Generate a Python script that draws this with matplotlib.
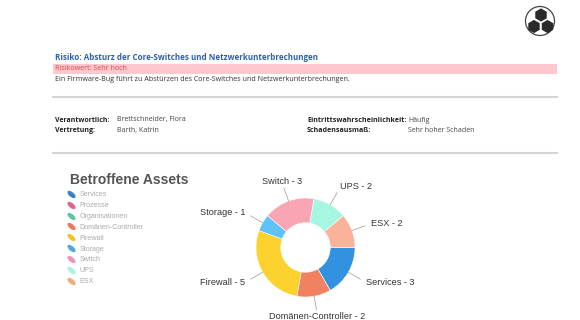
import numpy as np
import matplotlib
matplotlib.use("Agg")
import matplotlib.pyplot as plt
from matplotlib.patches import Circle, RegularPolygon, Rectangle
from matplotlib.lines import Line2D
from matplotlib.markers import MarkerStyle
from matplotlib.transforms import Affine2D

plt.rcParams["font.family"] = ["Liberation Sans", "DejaVu Sans"]

# -----------------------------
# Data
# -----------------------------

risk_title = "Risiko: Absturz der Core-Switches und Netzwerkunterbrechungen"
risk_value = "Risikowert: Sehr hoch"
risk_text = "Ein Firmware-Bug führt zu Abstürzen des Core-Switches und Netzwerkunterbrechungen."

left_keys = ["Verantwortlich:", "Vertretung:"]
left_values = ["Brettschneider, Flora", "Barth, Katrin"]
right_keys = ["Eintrittswahrscheinlichkeit:", "Schadensausmaß:"]
right_values = ["Häufig", "Sehr hoher Schaden"]

legend_names = ["Services", "Prozesse", "Organisationen", "Domänen-Controller",
                "Firewall", "Storage", "Switch", "UPS", "ESX"]
legend_colors = ["#3a80c4", "#e0648c", "#5cc6a0", "#e87c5c",
                 "#f2c42c", "#4ca8e2", "#f094b2", "#a8f2e0", "#f0aa7c"]

asset_names = ["Services", "Domänen-Controller", "Firewall", "Storage",
               "Switch", "UPS", "ESX"]
asset_counts = [3, 2, 5, 1, 3, 2, 2]
asset_colors = ["#3292e0", "#f08262", "#fdd12e", "#5ec3f7",
                "#f9a5b3", "#a6f7e1", "#fbb29b"]

HEAD_FONT = ["Open Sans", "DejaVu Sans"]

# -----------------------------
# Figure + header (pixel coords)
# -----------------------------

fig = plt.figure(figsize=(5.8, 3.2), dpi=100)
bg = fig.add_axes([0, 0, 1, 1])
bg.set_xlim(0, 580)
bg.set_ylim(320, 0)
bg.axis("off")

# logo
bg.add_patch(Circle((540, 21), 14.5, fill=False, ec="#444444", lw=0.9))
for hx, hy in [(541, 15), (534, 26.5), (547.5, 26.5)]:
    bg.add_patch(RegularPolygon((hx, hy), 6, radius=5.8, color="#2a2a2a"))

bg.text(55, 57, risk_title, fontsize=5.8, fontweight="bold", color="#2d5fb0",
        family=HEAD_FONT, va="center")
bg.add_patch(Rectangle((53, 63.5), 504, 10.5, color="#ffc8d0", lw=0))
bg.text(55, 68.5, risk_value, fontsize=5.1, color="#d9463a",
        family=HEAD_FONT, va="center")
bg.text(55, 79.5, risk_text, fontsize=5.1, color="#333333",
        family=HEAD_FONT, va="center")
bg.plot([53, 557], [97, 97], color="#d4d4d4", lw=1.5)

for i in range(2):
    y = 120 + i * 10.5
    bg.text(55, y, left_keys[i], fontsize=5.0, fontweight="bold", color="#222222",
            family=HEAD_FONT, va="center")
    bg.text(117, y, left_values[i], fontsize=5.0, color="#444444",
            family=HEAD_FONT, va="center")
    bg.text(307, y, right_keys[i], fontsize=5.1, fontweight="bold", color="#222222",
            family=HEAD_FONT, va="center")
    bg.text(408, y, right_values[i], fontsize=5.0, color="#444444",
            family=HEAD_FONT, va="center")
bg.plot([53, 557], [153, 153], color="#d4d4d4", lw=1.5)

# -----------------------------
# Legend block
# -----------------------------

bg.text(70, 180, "Betroffene Assets", fontsize=10, fontweight="bold",
        color="#555555", va="center")

handles = []
for c in legend_colors:
    m = MarkerStyle("o", transform=Affine2D().scale(1.0, 0.5).rotate_deg(-40))
    handles.append(Line2D([], [], ls="none", marker=m, markersize=7,
                          color=c, markeredgewidth=0))
leg = bg.legend(handles, legend_names, loc="upper left",
                bbox_to_anchor=(69 / 580, 1 - 191.5 / 320),
                frameon=False, fontsize=5.1, labelcolor="#aaaaaa",
                handlelength=0.6, handletextpad=0.85, labelspacing=0.54,
                borderpad=0, borderaxespad=0)

# -----------------------------
# Donut chart
# -----------------------------

cx, cy, R = 305.5, 247.5, 49.5
ax = fig.add_axes([(cx - 2 * R) / 580, (320 - cy - 2 * R) / 320,
                   4 * R / 580, 4 * R / 320])

wedges, _ = ax.pie(asset_counts, colors=asset_colors, startangle=0,
                   counterclock=False, radius=1.0,
                   wedgeprops=dict(width=0.5, edgecolor="white", linewidth=0.4))
ax.set_xlim(-2, 2)
ax.set_ylim(-2, 2)
ax.axis("off")

for w, name, n in zip(wedges, asset_names, asset_counts):
    ang = np.deg2rad((w.theta1 + w.theta2) / 2)
    ca, sa = np.cos(ang), np.sin(ang)
    ax.plot([1.0 * ca, 1.28 * ca], [1.0 * sa, 1.28 * sa], color="#999999", lw=0.5)
    if abs(ca) < 0.4:
        ha = "center"
    elif ca > 0:
        ha = "left"
    else:
        ha = "right"
    ax.text(1.4 * ca, 1.42 * sa, f"{name} - {n}", ha=ha, va="center",
            fontsize=6.6, color="#333333")

fig.savefig("out.png", dpi=100)
